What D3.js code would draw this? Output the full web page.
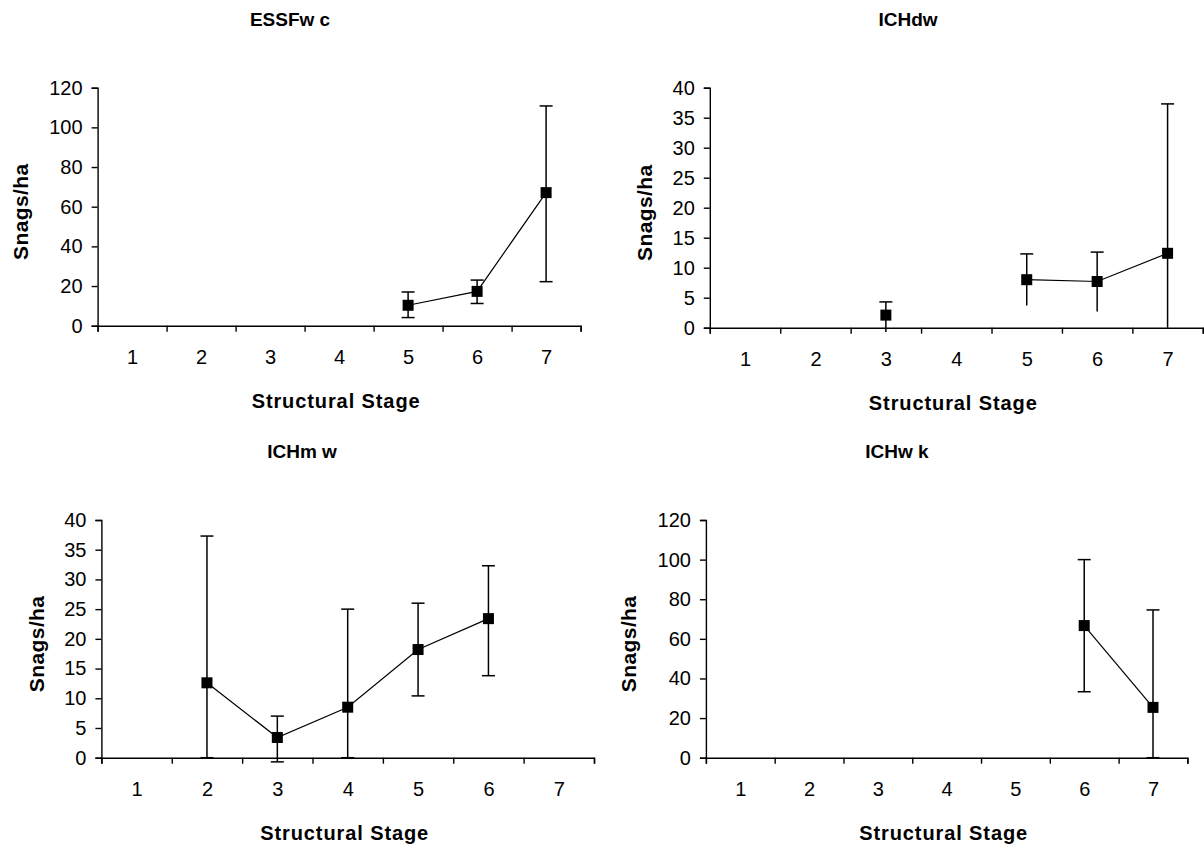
<!DOCTYPE html>
<html>
<head>
<meta charset="utf-8">
<script src="https://cdn.jsdelivr.net/npm/d3@7"></script>
<style>
  html, body { margin: 0; padding: 0; background: #fff; }
  svg { display: block; font-family: "Liberation Sans", Arial, sans-serif; }
</style>
</head>
<body>
<svg id="chart" width="1204" height="846"></svg>
<script>
// Structural stages shared by all four panels
const stageLabels = ["1", "2", "3", "4", "5", "6", "7"];

// Y-axis tick sets
const ticks120 = [0, 20, 40, 60, 80, 100, 120];
const ticks40 = [0, 5, 10, 15, 20, 25, 30, 35, 40];

// Panel titles
const titles = ["ESSFw c", "ICHdw", "ICHm w", "ICHw k"];

// ESSFwc: mean snags/ha and error-bar bounds per stage (null = no sample)
const essfwcMean = [null, null, null, null, 10.3, 17.3, 67.1];
const essfwcLow  = [null, null, null, null, 4.1, 11.2, 22.2];
const essfwcHigh = [null, null, null, null, 17.0, 23.0, 110.8];

// ICHdw
const ichdwMean = [null, null, 2.1, null, 8.0, 7.7, 12.4];
const ichdwLow  = [null, null, -0.7, null, 3.7, 2.7, 0];
const ichdwHigh = [null, null, 4.3, null, 12.3, 12.6, 37.3];

// ICHmw
const ichmwMean = [null, 12.6, 3.4, 8.5, 18.2, 23.4, null];
const ichmwLow  = [null, 0, -0.7, 0, 10.4, 13.8, null];
const ichmwHigh = [null, 37.3, 7.0, 25.0, 26.0, 32.3, null];

// ICHwk
const ichwkMean = [null, null, null, null, null, 66.7, 25.4];
const ichwkLow  = [null, null, null, null, null, 33.3, 0];
const ichwkHigh = [null, null, null, null, null, 100, 74.6];

// Panel layout: plot box in page pixels plus label anchors
const panels = [
  { title: titles[0], mean: essfwcMean, low: essfwcLow, high: essfwcHigh, yTicks: ticks120,
    left: 97.6, right: 580.6, top: 87.7, bottom: 325.7,
    titleX: 290, titleY: 26, yLabelX: 21, lowCaps: true },
  { title: titles[1], mean: ichdwMean, low: ichdwLow, high: ichdwHigh, yTicks: ticks40,
    left: 709.8, right: 1202.8, top: 87.7, bottom: 327.7,
    titleX: 908, titleY: 26, yLabelX: 645, lowCaps: false },
  { title: titles[2], mean: ichmwMean, low: ichmwLow, high: ichmwHigh, yTicks: ticks40,
    left: 101.4, right: 594, top: 520, bottom: 757.7,
    titleX: 302, titleY: 458, yLabelX: 37, lowCaps: true },
  { title: titles[3], mean: ichwkMean, low: ichwkLow, high: ichwkHigh, yTicks: ticks120,
    left: 705.9, right: 1187.4, top: 520, bottom: 757.7,
    titleX: 897, titleY: 458, yLabelX: 629, lowCaps: true }
];

const svg = d3.select("#chart");
const ink = "#000";
const tickFont = "20px";
const axisTitleFont = "20px";

panels.forEach(p => {
  const g = svg.append("g");

  // category axis: stage n sits at n, boundaries at n ± 0.5
  const x = d3.scaleLinear().domain([0.5, 7.5]).range([p.left, p.right]);
  const yMax = d3.max(p.yTicks);
  const y = d3.scaleLinear().domain([0, yMax]).range([p.bottom, p.top]);

  // Y axis
  const yAxis = g.append("g")
    .attr("transform", `translate(${p.left},0)`)
    .call(d3.axisLeft(y).tickValues(p.yTicks).tickSize(6).tickPadding(9).tickFormat(d3.format("d")));
  yAxis.selectAll("text").style("font-size", tickFont).attr("fill", ink);

  // X axis: tick marks on category boundaries
  const bounds = d3.range(0.5, 7.6, 1);
  const xAxis = g.append("g")
    .attr("transform", `translate(0,${p.bottom})`)
    .call(d3.axisBottom(x).tickValues(bounds).tickSize(6).tickFormat(""));
  // X labels centred in each category
  const xLabels = g.append("g")
    .attr("transform", `translate(0,${p.bottom})`)
    .call(d3.axisBottom(x).tickValues(d3.range(1, 8)).tickSize(0).tickPadding(24)
      .tickFormat((d, i) => stageLabels[i]));
  xLabels.select(".domain").remove();
  xLabels.selectAll("text").style("font-size", tickFont).attr("fill", ink);

  [yAxis, xAxis].forEach(a => {
    a.select(".domain").attr("stroke", ink).attr("stroke-width", 1.4);
    a.selectAll(".tick line").attr("stroke", ink).attr("stroke-width", 1.4);
  });

  // Title
  g.append("text")
    .attr("x", p.titleX).attr("y", p.titleY)
    .attr("text-anchor", "middle")
    .style("font-size", "19px").style("font-weight", "bold")
    .text(p.title);

  // Axis titles
  g.append("text")
    .attr("x", (p.left + p.right) / 2 - 3)
    .attr("y", p.bottom + 82)
    .attr("text-anchor", "middle")
    .style("font-size", axisTitleFont).style("font-weight", "bold")
    .style("letter-spacing", "0.9px")
    .text("Structural Stage");

  const yMid = (p.top + p.bottom) / 2 + 5;
  g.append("text")
    .attr("transform", `translate(${p.yLabelX + 7},${yMid}) rotate(-90)`)
    .attr("text-anchor", "middle")
    .style("font-size", "21px").style("font-weight", "bold")
    .style("letter-spacing", "0.4px")
    .text("Snags/ha");

  const pts = stageLabels.map((s, i) => ({
    stage: i + 1, mean: p.mean[i], low: p.low[i], high: p.high[i]
  }));
  const present = pts.filter(d => d.mean !== null);

  // Connecting line, broken where a stage has no value
  const line = d3.line()
    .defined(d => d.mean !== null)
    .x(d => x(d.stage)).y(d => y(d.mean));
  g.append("path")
    .datum(pts)
    .attr("d", line)
    .attr("fill", "none").attr("stroke", ink).attr("stroke-width", 1.2);

  // Error bars
  const cap = 6.5;
  const eb = g.append("g").attr("stroke", ink).attr("stroke-width", 1.5);
  present.forEach(d => {
    const cx = x(d.stage);
    eb.append("line").attr("x1", cx).attr("x2", cx).attr("y1", y(d.low)).attr("y2", y(d.high));
    eb.append("line").attr("x1", cx - cap).attr("x2", cx + cap).attr("y1", y(d.high)).attr("y2", y(d.high));
    if (p.lowCaps) {
      eb.append("line").attr("x1", cx - cap).attr("x2", cx + cap).attr("y1", y(d.low)).attr("y2", y(d.low));
    }
  });

  // Square markers
  const m = 11;
  g.append("g").selectAll("rect")
    .data(present)
    .join("rect")
    .attr("x", d => x(d.stage) - m / 2)
    .attr("y", d => y(d.mean) - m / 2)
    .attr("width", m).attr("height", m)
    .attr("fill", ink);
});
</script>
</body>
</html>
